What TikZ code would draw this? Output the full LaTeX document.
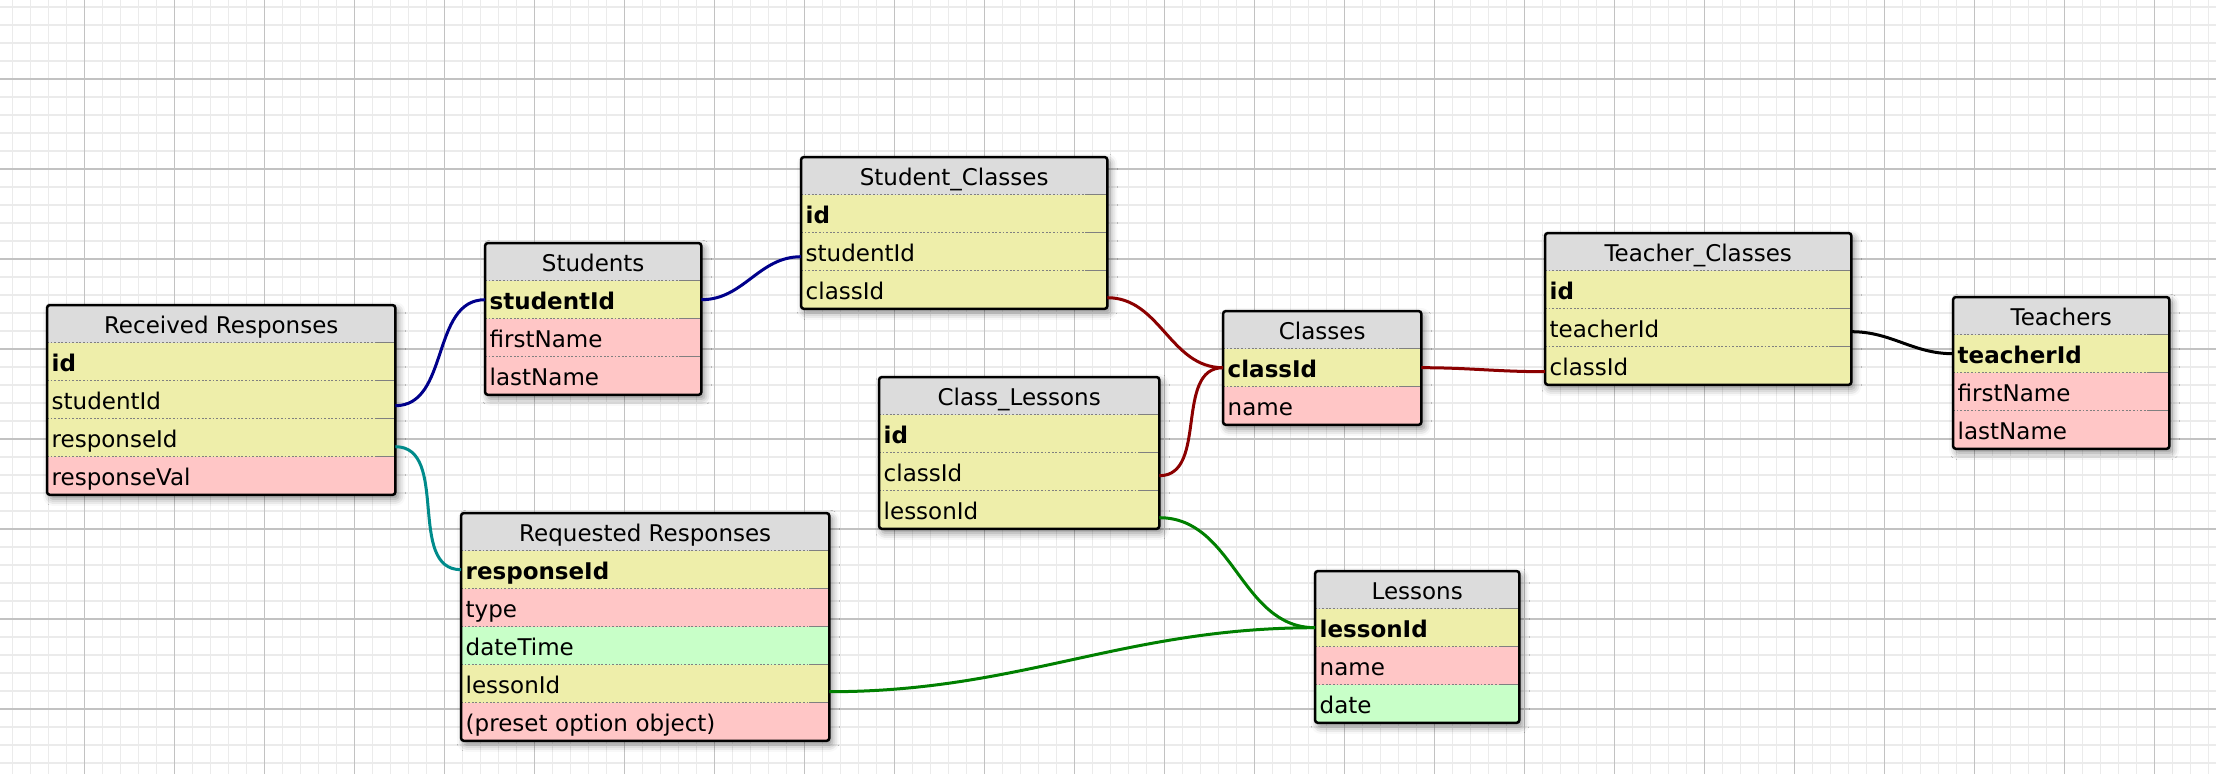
\documentclass[tikz,border=0pt]{standalone}
\usepackage{fontspec}
\setmainfont{DejaVu Sans}
\usetikzlibrary{fit,backgrounds,shadows.blur}

\definecolor{headgray}{HTML}{DCDCDC}
\definecolor{keyyellow}{HTML}{EEEEAA}
\definecolor{fieldpink}{HTML}{FFC6C6}
\definecolor{timegreen}{HTML}{C8FFC8}
\definecolor{sepgray}{HTML}{808080}
\definecolor{gridminor}{HTML}{EBEBEB}
\definecolor{gridmajor}{HTML}{C2C2C2}
\definecolor{linkblue}{HTML}{00008B}
\definecolor{linkred}{HTML}{8B0000}
\definecolor{linkteal}{HTML}{008B8B}
\definecolor{linkgreen}{HTML}{008000}

\tikzset{
  cell/.style={anchor=north west, inner xsep=4.5pt, inner ysep=0pt,
    minimum height=38pt, text height=22pt, text depth=2pt,
    font=\fontsize{23}{27}\selectfont},
  tablehead/.style={cell, fill=headgray, minimum height=37.5pt},
  keyrow/.style={cell, fill=keyyellow, align=left,
    font=\fontsize{23}{27}\selectfont\bfseries},
  linkrow/.style={cell, fill=keyyellow, align=left},
  textrow/.style={cell, fill=fieldpink, align=left},
  timerow/.style={cell, fill=timegreen, align=left},
  sepdots/.style={draw=sepgray, line width=1.8pt, dash pattern=on 1.8pt off 1.8pt},
  sepsolid/.style={draw=sepgray, line width=1.8pt},
  tableframe/.style={draw=black, line width=2.5pt, rounded corners=3pt, inner sep=0pt},
  tableshadow/.style={fill=white, inner sep=0pt, rounded corners=3pt,
    blur shadow={shadow xshift=3pt, shadow yshift=-4pt,
                 shadow blur radius=7pt, shadow opacity=45}},
  link/.style={line width=3pt},
}

% one table: name, left, top, width, title, rows as text/style
\newcommand{\dbtable}[6]{
  \pgfmathsetlengthmacro{\rowtext}{#4pt-9pt}
  \node[tablehead, minimum width=#4pt] (#1-0) at (#2,#3) {#5};
  \foreach \txt/\kind [count=\i] in {#6} {
    \node[\kind, minimum width=#4pt, text width=\rowtext]
      (#1-\i) at (#2,#3+37.5+38*\i-38) {\txt};
    \draw[sepdots] (#1-\i.north west) -- ([xshift=-20pt]#1-\i.north east);
    \draw[sepsolid] ([xshift=-20pt]#1-\i.north east) -- (#1-\i.north east);
    \xdef\lastrow{\i}
  }
  \begin{scope}[on background layer]
    \node[tableshadow, fit=(#1-0)(#1-\lastrow)] {};
  \end{scope}
  \node[tableframe, fit=(#1-0)(#1-\lastrow)] {};
}

\begin{document}
\begin{tikzpicture}[x=1pt, y=-1pt]
  \useasboundingbox (0,0) rectangle (2216,774);

  % Draws the background grid
  \begin{scope}[on background layer]
    \foreach \gx in {12.5,30.5,...,2216}
      \draw[gridminor, line width=1.4pt] (\gx,0) -- (\gx,774);
    \foreach \gy in {7,25,...,774}
      \draw[gridminor, line width=1.4pt] (0,\gy) -- (2216,\gy);
    \foreach \gx in {84.5,174.5,...,2216}
      \draw[gridmajor, line width=1.4pt] (\gx,0) -- (\gx,774);
    \foreach \gy in {79,169,...,774}
      \draw[gridmajor, line width=1.4pt] (0,\gy) -- (2216,\gy);
  \end{scope}

  % Draws the tables
  \dbtable{recv}{47}{305}{348}{Received Responses}
    {id/keyrow, studentId/linkrow, responseId/linkrow, responseVal/textrow}
  \dbtable{stud}{485}{243}{216}{Students}
    {studentId/keyrow, firstName/textrow, lastName/textrow}
  \dbtable{stcl}{801}{157}{306}{Student\_Classes}
    {id/keyrow, studentId/linkrow, classId/linkrow}
  \dbtable{clas}{1223}{311}{198}{Classes}
    {classId/keyrow, name/textrow}
  \dbtable{cles}{879}{377}{280}{Class\_Lessons}
    {id/keyrow, classId/linkrow, lessonId/linkrow}
  \dbtable{tecl}{1545}{233}{306}{Teacher\_Classes}
    {id/keyrow, teacherId/linkrow, classId/linkrow}
  \dbtable{teach}{1953}{297}{216}{Teachers}
    {teacherId/keyrow, firstName/textrow, lastName/textrow}
  \dbtable{req}{461}{513}{368}{Requested Responses}
    {responseId/keyrow, type/textrow, dateTime/timerow, lessonId/linkrow,
     (preset option object)/textrow}
  \dbtable{less}{1315}{571}{204}{Lessons}
    {lessonId/keyrow, name/textrow, date/timerow}

  % Draws the links between keys
  \draw[link, linkblue] ([yshift=-6pt]recv-2.east) to[out=0, in=180] (stud-1.west);
  \draw[link, linkblue] (stud-1.east) to[out=0, in=180] ([yshift=-5pt]stcl-2.west);
  \draw[link, linkred] ([yshift=-8pt]stcl-3.east) to[out=0, in=180] (clas-1.west);
  \draw[link, linkred] ([yshift=-4pt]cles-2.east) to[out=0, in=180] (clas-1.west);
  \draw[link, linkred] (clas-1.east) to[out=0, in=180] ([yshift=-6pt]tecl-3.west);
  \draw[link, black] ([yshift=-4pt]tecl-2.east) to[out=0, in=180] (teach-1.west);
  \draw[link, linkteal] ([yshift=-9pt]recv-3.east) to[out=0, in=180] (req-1.west);
  \draw[link, linkgreen] ([yshift=-8pt]cles-3.east) to[out=0, in=180] (less-1.west);
  \draw[link, linkgreen] ([yshift=-8pt]req-4.east) to[out=0, in=180] (less-1.west);
\end{tikzpicture}
\end{document}
